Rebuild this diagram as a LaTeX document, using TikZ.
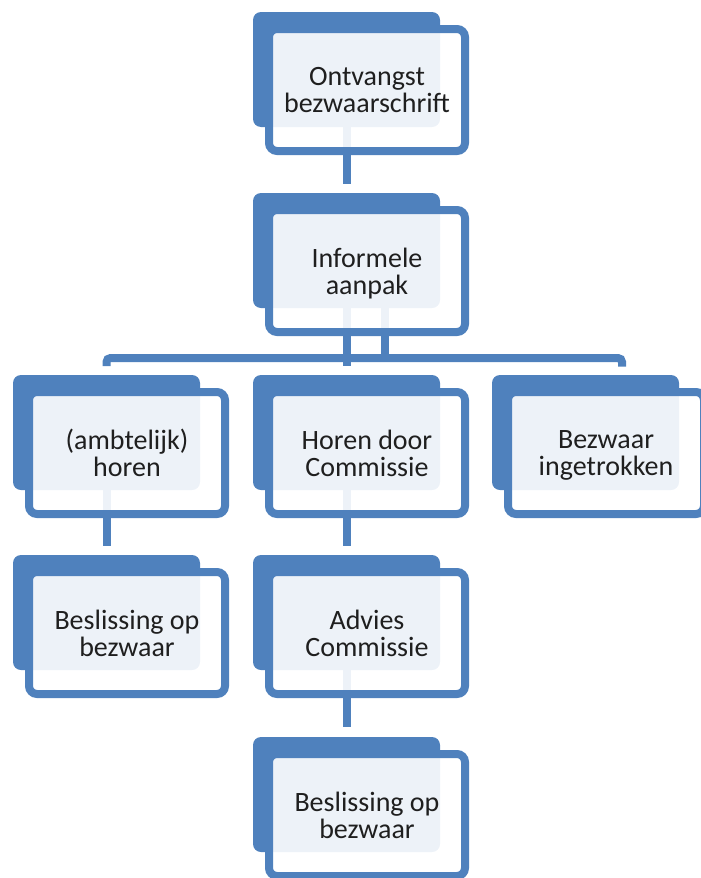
\documentclass[tikz,border=0pt]{standalone}
\usepackage{fontspec}
\setmainfont{Carlito}
\definecolor{sablue}{HTML}{4F81BD}
\definecolor{satext}{HTML}{1F1F1F}
\pgfdeclarelayer{bg}
\pgfsetlayers{bg,main}
\tikzset{
  backbox/.style={rectangle, fill=sablue, rounded corners=8pt,
    minimum width=187pt, minimum height=115pt, inner sep=0pt, outer sep=0pt},
  frontbox/.style={rectangle, draw=sablue, line width=8pt, fill=white,
    fill opacity=0.9, text opacity=1, rounded corners=8pt,
    minimum width=196pt, minimum height=122pt, inner sep=0pt, outer sep=0pt,
    align=center, text=satext, font=\fontsize{28}{27.3}\selectfont, text depth=0pt},
  conn/.style={draw=sablue, line width=8pt},
}
\begin{document}
\begin{tikzpicture}[x=1pt,y=-1pt]
\useasboundingbox (0,0) rectangle (701,878);
% row 1
\node[backbox] (Ab) at (346.5,69.5) {};
\node[frontbox] (A) at (367,90) {Ontvangst\\bezwaarschrift};
% row 2
\node[backbox] (Bb) at (346.5,250.5) {};
\node[frontbox] (B) at (367,271) {Informele\\aanpak};
% row 3
\node[backbox] (Db) at (106.5,432.5) {};
\node[frontbox] (D) at (127,453) {(ambtelijk)\\horen};
\node[backbox] (Eb) at (346.5,432.5) {};
\node[frontbox] (E) at (367,453) {Horen door\\Commissie};
\node[backbox] (Fb) at (585.5,432.5) {};
\node[frontbox] (F) at (606,453) {Bezwaar\\ingetrokken};
% row 4
\node[backbox] (Gb) at (106.5,612.5) {};
\node[frontbox] (G) at (127,633) {Beslissing op\\bezwaar};
\node[backbox] (Hb) at (346.5,612.5) {};
\node[frontbox] (H) at (367,633) {Advies\\Commissie};
% row 5
\node[backbox] (Ib) at (346.5,794.5) {};
\node[frontbox] (I) at (367,815) {Beslissing op\\bezwaar};
% connectors
\begin{pgfonlayer}{bg}
\draw[conn] (Ab.center) -- ([yshift=9.5pt]Bb.north);
\draw[conn] (Bb.center) -- ([yshift=9pt]Eb.north);
\coordinate (Bj) at ([xshift=38pt]Bb.center);
\coordinate (barR) at (622,358);
\draw[conn] (Bj) -- (Bj |- barR);
\draw[conn, rounded corners=4pt] ([yshift=9pt]Db.north) |- (barR) -- ++(0,8.5);
\draw[conn] (Db.center) -- ([yshift=9pt]Gb.north);
\draw[conn] (Eb.center) -- ([yshift=9pt]Hb.north);
\draw[conn] (Hb.center) -- ([yshift=10pt]Ib.north);
\end{pgfonlayer}
\end{tikzpicture}
\end{document}
